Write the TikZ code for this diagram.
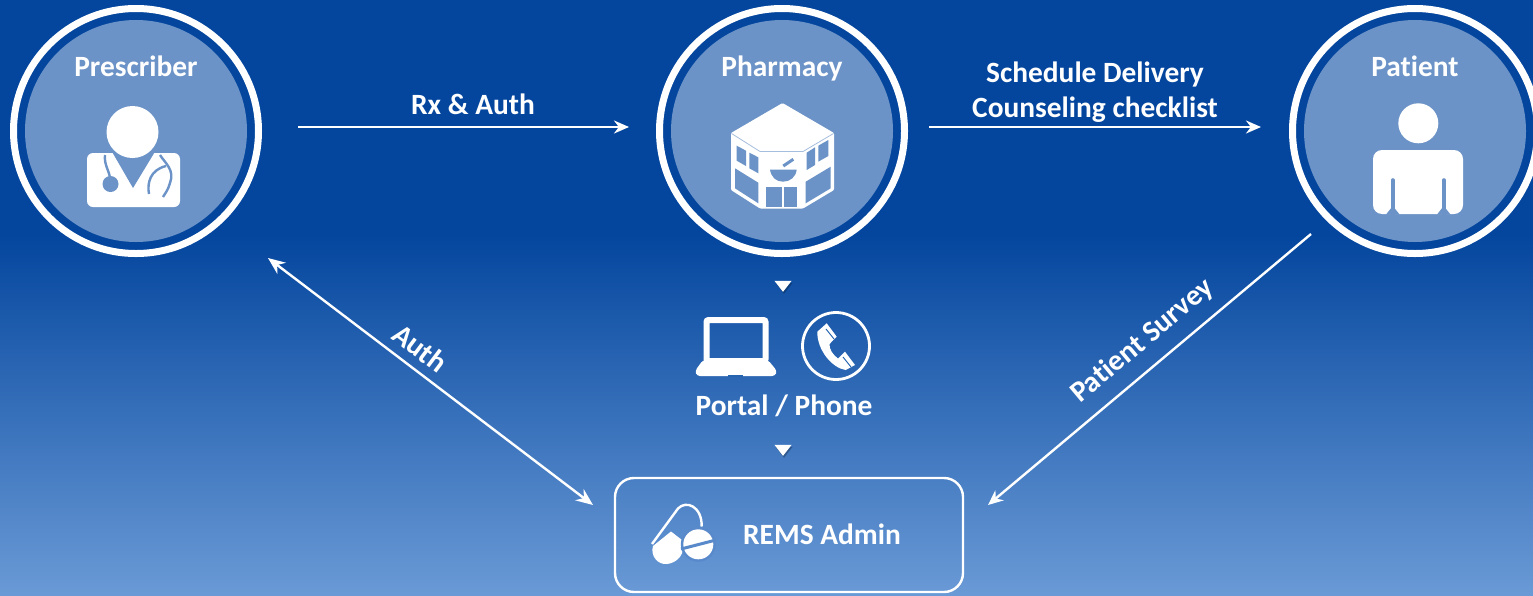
\documentclass[tikz,border=0pt]{standalone}
\usepackage{fontspec}
\setmainfont{Carlito}[RawFeature=-liga]
\usetikzlibrary{shapes.geometric, arrows.meta, positioning, calc}
\definecolor{navy}{RGB}{4,70,158}
\definecolor{disc}{RGB}{107,147,199}
\definecolor{pale}{RGB}{106,154,214}
\definecolor{phonebg}{RGB}{38,100,176}
\definecolor{pillbg}{RGB}{88,137,202}
\tikzstyle{arrow} = [line width=2.4pt, white, -{Stealth[length=15pt,width=13pt]}]
\tikzstyle{twoway} = [line width=2.4pt, white, {Stealth[length=17pt,width=14pt]}-{Stealth[length=17pt,width=14pt]}]

\begin{document}
\begin{tikzpicture}[
    x=1pt, y=-1pt,
    ring/.style={circle, draw=white, line width=7pt, fill=navy, minimum size=245pt, inner sep=0pt, outer sep=0pt},
    face/.style={circle, fill=disc, minimum size=222pt, inner sep=0pt, outer sep=0pt},
    lbl/.style={text=white, font=\fontsize{29.4}{35}\selectfont\bfseries, inner sep=0pt},
    tip/.style={isosceles triangle, isosceles triangle apex angle=76, shape border rotate=-90, fill=white, minimum size=11pt, inner sep=0pt, outer sep=0pt},
    tipshade/.style={tip, fill=black, opacity=0.25},
    hole/.style={fill=disc, draw=none},
]
\useasboundingbox (0,0) rectangle (1533,595);
\clip (0,0) rectangle (1533,595);

% Background
\fill[navy] (0,0) rectangle (1533,236);
\shade[top color=navy, bottom color=pale] (0,235) rectangle (1533,595);

% Actors
\foreach \who/\cx/\name in {prescriber/136/Prescriber, pharmacy/782/Pharmacy, patient/1415/Patient} {
    \node[ring] (\who) at (\cx, 131) {};
    \node[face] (\who face) at (\cx, 131) {};
    \node[lbl, anchor=base] (\who name) at (\cx, 76) {\name};
}

% Prescriber icon
\fill[white, rounded corners=6pt] (87,153) rectangle (180,207);
\fill[hole] (111,150) -- (133,188) -- (156,150) -- cycle;
\fill[white] (132.5,132) circle (26);
\draw[disc, line width=2.4pt] (105,155) .. controls (104,165) and (109,170) .. (110,178);
\fill[disc] (110.5,184) circle (8);
\draw[disc, line width=2.4pt] (160,155) .. controls (165,163) and (175,170) .. (170,183) .. controls (168,190) and (166,192) .. (163,197);
\draw[disc, line width=2.4pt] (149,194) .. controls (147,183) and (150,170) .. (166,166);

% Pharmacy icon
\fill[white, rounded corners=1pt] (782.5,103) -- (834,133) -- (834,190) -- (803,208.5) -- (760,208.5) -- (731,190) -- (731,133) -- cycle;
\fill[hole] (736.7,145.7) -- (746,150.7) -- (746,166) -- (736.7,160.7) -- cycle;
\fill[hole] (749.3,152.7) -- (758.3,157.3) -- (758.3,173.3) -- (749.3,168.3) -- cycle;
\fill[hole] (735,168.3) -- (758.3,182.7) -- (758.3,203.3) -- (735,188.3) -- cycle;
\fill[hole] (806.7,152.7) -- (815,147.3) -- (815,165) -- (806.7,170) -- cycle;
\fill[hole] (818.3,145.7) -- (828.3,140) -- (828.3,156) -- (818.3,161.7) -- cycle;
\fill[hole] (805.7,181.7) -- (830.7,166.7) -- (830.7,188.3) -- (805.7,203.3) -- cycle;
\fill[hole] (766,187) rectangle (781.5,207.3);
\fill[hole] (784,187) rectangle (797.3,207.3);
\draw[disc!60!white, line width=0.8pt] (731.5,133.5) -- (760,151.5) -- (803,151.5) -- (833.5,133.5);
\fill[hole] (770,169.5) -- (796.7,169.5) .. controls (796,177) and (790,181.7) .. (783,181.7) .. controls (776,181.7) and (771,177) .. (770,169.5) -- cycle;
\draw[disc, line width=3pt] (783.3,166) -- (793.3,159.3);

% Patient icon
\fill[white] (1418.3,123.3) circle (20);
\fill[white, rounded corners=9pt] (1373,150) rectangle (1463,214);
\draw[disc, line width=3.6pt, line cap=round] (1392.8,180) -- (1392.8,216);
\draw[disc, line width=3.6pt, line cap=round] (1443.7,180) -- (1443.7,216);
\fill[disc] (1386,214.5) -- (1392.8,206) -- (1399.6,214.5) -- cycle;
\fill[disc] (1437,214.5) -- (1443.7,206) -- (1450.5,214.5) -- cycle;

% Connectors along the top
\draw[arrow, shorten <=39.5pt, shorten >=30.5pt] ([yshift=4pt]prescriber.east) -- ([yshift=4pt]pharmacy.west);
\draw[arrow, shorten <=24.5pt, shorten >=31.5pt] ([yshift=4pt]pharmacy.east) -- ([yshift=4pt]patient.west);
\node[lbl] (rxauth) at (473,104) {Rx \& Auth};
\node[lbl, align=center] (delivery) at (1095,92.5) {Schedule Delivery\\Counseling checklist};

% Portal and phone
\node[tipshade] (tipashade) at (784,287) {};
\node[tip] (tipa) at (783,285) {};
\node[tipshade] (tipbshade) at (784,451) {};
\node[tip] (tipb) at (783,449) {};
\node[lbl, anchor=base] (portal) at (784,415) {Portal / Phone};

% Laptop
\draw[white, line width=6pt, rounded corners=2pt] (706.5,320) rectangle (765.5,361);
\fill[white, rounded corners=3pt] (703,360) -- (768,360) -- (777,371) -- (775,376) -- (697,376) -- (695,371) -- cycle;
\fill[phonebg] (728,374.5) rectangle (743,376.5);
\node[circle, draw=white, line width=2.8pt, minimum size=67pt, inner sep=0pt] (phone) at (836,346) {};
% Handset
\fill[white] (817.3,331.7) -- (826.7,323.3) -- (836.7,336.7) -- (829.5,344) .. controls (829,349) and (833,355) .. (838,358.5) -- (845,351.7) -- (855,365) -- (845.7,370) .. controls (832,368) and (817,350) .. (817.3,331.7) -- cycle;
\draw[phonebg, line width=1pt] (826,329) -- (834,339);
\draw[phonebg, line width=1pt] (843,357) -- (851,367);

% REMS Admin
\node[draw=white, line width=2.4pt, rounded corners=19pt, minimum width=348pt, minimum height=114pt, inner sep=0pt, outer sep=0pt] (rems) at (789,535) {};
\node[lbl, anchor=base] (remsname) at (822,544) {REMS Admin};
% Pill icon
\fill[white] (653,546) .. controls (650,556) and (658,565) .. (667,564) .. controls (676,563) and (683,556) .. (683,548) -- (682,540) -- (671,531.5) -- cycle;
\draw[white, line width=2.4pt] (652,544) -- (678,508.5) .. controls (686,500) and (702,506) .. (701.7,526.5);
\fill[pillbg] (698.3,544.3) circle (17.5);
\fill[white] (698.3,544.3) circle (15);
\draw[pillbg, line width=3pt] (681,549) -- (716,540);

% Links to the admin
\draw[twoway] ([shift={(45.4,40.4)}]prescriber.-45) -- ([shift={(-22,-30)}]rems.west);
\draw[arrow] ([shift={(-17.4,16.4)}]patient.-135) -- ([shift={(25,-30)}]rems.east);
\node[lbl, rotate=-37] (authlbl) at (420,348) {Auth};
\node[lbl, rotate=40] (surveylbl) at (1142.5,341) {Patient Survey};

\end{tikzpicture}
\end{document}
